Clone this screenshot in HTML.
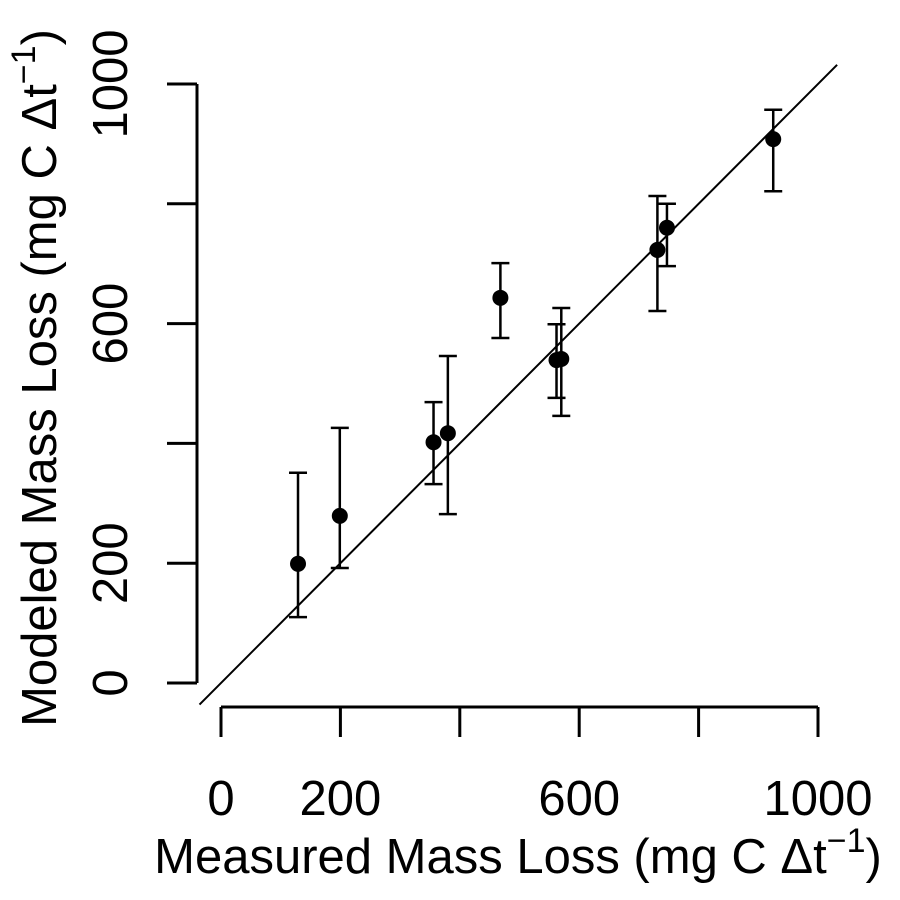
<!DOCTYPE html>
<html><head><meta charset="utf-8"><style>body{margin:0;background:#fff}svg{display:block;font-family:"Liberation Sans",sans-serif}</style></head>
<body>
<svg id="chart" width="900" height="900" viewBox="0 0 900 900">
<g id="axes"></g><g id="marks"></g>
<text x="518" y="873" font-size="49" text-anchor="middle">Measured Mass Loss (mg C Δt<tspan dy="-21" font-size="34">−1</tspan><tspan dy="21">)</tspan></text>
<text transform="translate(56,378) rotate(-90)" font-size="49" text-anchor="middle">Modeled Mass Loss (mg C Δt<tspan dy="-21" font-size="34">−1</tspan><tspan dy="21">)</tspan></text>
</svg>
<script>
const measured=[129,199,356,380,468,562,570,731,747,925];
const modeled=[199,279,402,417,643,539,541,723,760,908];
const errHigh=[351,426,469,546,701,599,626,813,800,957];
const errLow=[110,192,332,282,576,476,446,621,696,821];
const xTicks=[0,200,400,600,800,1000];
const xTickLabels=["0","200","","600","","1000"];
const yTicks=[0,200,400,600,800,1000];
const yTickLabels=["0","200","","600","","1000"];
const NS="http://www.w3.org/2000/svg";
const X=v=>221+v*0.597, Y=v=>683-v*0.599;
function mk(t,a,p){const e=document.createElementNS(NS,t);for(const k in a)e.setAttribute(k,a[k]);p.appendChild(e);return e;}
const ax=document.getElementById('axes'), mg=document.getElementById('marks');
let l=mk('line',{x1:X(0),x2:X(1000),y1:707,y2:707,stroke:'#000','stroke-width':3},ax);


l=mk('line',{x1:197,x2:197,y1:Y(0),y2:Y(1000),stroke:'#000','stroke-width':3},ax);


xTicks.forEach((v,i)=>{
 const t=mk('line',{x1:X(v),x2:X(v),y1:707,y2:737,stroke:'#000','stroke-width':3},ax);
 
 
 if(xTickLabels[i]){const s=mk('text',{x:X(v),y:815,'font-size':49,'text-anchor':'middle'},ax);s.textContent=xTickLabels[i];
 
 }
});
yTicks.forEach((v,i)=>{
 const t=mk('line',{x1:167,x2:197,y1:Y(v),y2:Y(v),stroke:'#000','stroke-width':3},ax);
 
 
 if(yTickLabels[i]){const s=mk('text',{transform:`translate(127,${Y(v)}) rotate(-90)`,'font-size':49,'text-anchor':'middle'},ax);s.textContent=yTickLabels[i];
 
 }
});
l=mk('line',{x1:X(-36),y1:Y(-36),x2:X(1032),y2:Y(1032),stroke:'#000','stroke-width':2},mg);


measured.forEach((m,i)=>{
 const g=mk('g',{},mg);
 
 
 const x=X(m);
 mk('line',{x1:x,x2:x,y1:Y(errHigh[i]),y2:Y(errLow[i]),stroke:'#000','stroke-width':2.5},g);
 mk('line',{x1:x-9,x2:x+9,y1:Y(errHigh[i]),y2:Y(errHigh[i]),stroke:'#000','stroke-width':2.5},g);
 mk('line',{x1:x-9,x2:x+9,y1:Y(errLow[i]),y2:Y(errLow[i]),stroke:'#000','stroke-width':2.5},g);
 mk('circle',{cx:x,cy:Y(modeled[i]),r:8,fill:'#000'},g);
});
</script>
</body></html>
